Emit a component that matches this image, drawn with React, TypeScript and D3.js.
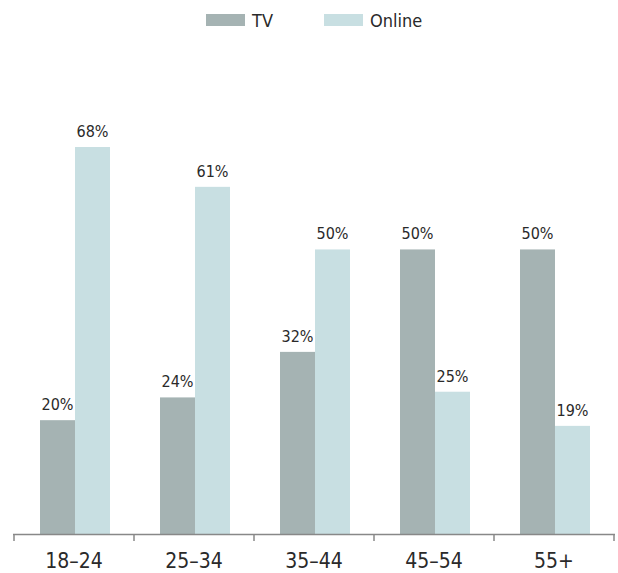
import React from "react";
import * as d3 from "d3";

const categories = ["18–24", "25–34", "35–44", "45–54", "55+"];
const seriesNames = ["TV", "Online"];
const tvValues = [20, 24, 32, 50, 50];
const onlineValues = [68, 61, 50, 25, 19];
const colors = ["#a5b3b3", "#c8dfe2"];

const W = 618;
const H = 573;
const font = "'DejaVu Sans Condensed', 'DejaVu Sans', sans-serif";

export default function App() {
  const x = d3.scaleBand<string>().domain(categories).range([14, 614]).paddingInner(0).paddingOuter(0);
  const inner = d3.scaleBand<string>().domain(seriesNames).range([0, 70]);
  const y = d3.scaleLinear().domain([0, 68]).range([534, 147]);
  const series = [tvValues, onlineValues];
  const ticks = [...categories.map((c) => x(c)!), 614];

  return (
    <svg width={W} height={H} style={{ position: "absolute", left: 0, top: 0 }} fontFamily={font}>
      {/* legend */}
      {seriesNames.map((s, i) => {
        const lx = i === 0 ? 206 : 324;
        return (
          <g key={s}>
            <rect x={lx} y={14} width={39} height={12} fill={colors[i]} />
            <text x={lx + 46} y={27} fontSize={18} fill="#2a2a2a">{s}</text>
          </g>
        );
      })}
      {/* bars */}
      {categories.map((c, ci) => {
        const cx = x(c)! + x.bandwidth() / 2 - 35 + 1;
        return (
          <g key={c}>
            {series.map((vals, si) => {
              const bx = cx + inner(seriesNames[si])!;
              const v = vals[ci];
              return (
                <g key={si}>
                  <rect x={bx} y={y(v)} width={inner.bandwidth()} height={534 - y(v)} fill={colors[si]} />
                  <text x={bx + inner.bandwidth() / 2} y={y(v) - 10} textAnchor="middle" fontSize={16} fill="#2a2a2a">
                    {v}%
                  </text>
                </g>
              );
            })}
          </g>
        );
      })}
      {/* axis */}
      <line x1={13} x2={615} y1={534.5} y2={534.5} stroke="#888" strokeWidth={1.5} />
      {ticks.map((t, i) => (
        <line key={i} x1={t} x2={t} y1={534} y2={541} stroke="#888" strokeWidth={1.5} />
      ))}
      {categories.map((c) => (
        <text key={c} x={x(c)! + x.bandwidth() / 2} y={568} textAnchor="middle" fontSize={21} fill="#2a2a2a">
          {c}
        </text>
      ))}
    </svg>
  );
}
